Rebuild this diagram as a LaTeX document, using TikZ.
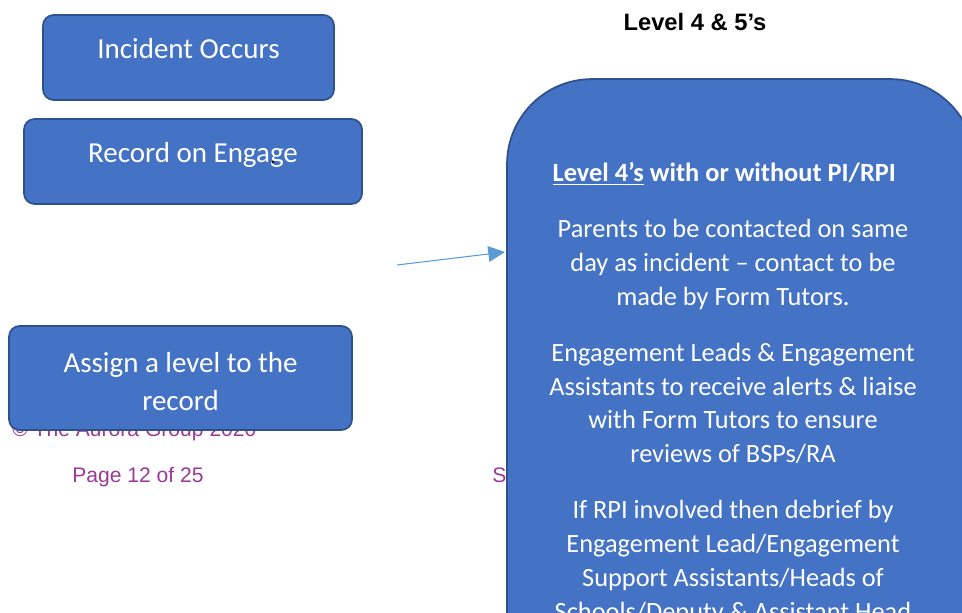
\documentclass[tikz,border=0pt]{standalone}
\usepackage{fontspec}
\setmainfont{Carlito}
\newfontfamily\arialfont{Liberation Sans}
\usetikzlibrary{arrows.meta}
\usetikzlibrary{calc}
\definecolor{boxfill}{HTML}{4472C4}
\definecolor{boxline}{HTML}{2F528F}
\definecolor{arrowcol}{HTML}{5B9BD5}
\definecolor{footcol}{HTML}{9B3A96}
\tikzset{
  flowbox/.style={draw=boxline,fill=boxfill,line width=1pt,
                  rounded corners=#1,inner sep=0pt},
  flowbox/.default=6pt,
  boxtext/.style={text=white,font=\fontsize{16.5}{21.5}\selectfont,
                  align=center,inner sep=0pt},
  bodytext/.style={text=white,font=\fontsize{15}{19.3}\selectfont,
                   align=center,inner sep=0pt},
  foottext/.style={text=footcol,font=\arialfont\fontsize{12}{14}\selectfont,
                   inner sep=0pt},
  link/.style={arrowcol,line width=0.6pt,-{Triangle[length=9.5pt,width=9pt]}}
}

\begin{document}
\begin{tikzpicture}[x=0.02cm,y=-0.02cm]
  \useasboundingbox (0,0) rectangle (962,612);
  \clip (0,0) rectangle (962,612);

  % FOOTER (behind the boxes)
  \node[foottext,anchor=base west] (copyright) at (12,436) {© The Aurora Group 2020};
  \node[foottext,anchor=base west] (pagenum) at (72,482) {Page 12 of 25};
  \node[foottext,anchor=base west] (footright) at (492,482) {S};

  % TITLE
  \node[anchor=base,inner sep=0pt,font=\arialfont\bfseries\fontsize{13.5}{16}\selectfont]
    (title) at (695,30.5) {Level 4 \& 5’s};

  % LEFT BOXES
  \node[flowbox,minimum width=5.82cm,minimum height=1.7cm] (incident) at (188.5,57.5) {};
  \node[boxtext,anchor=base] (incidentText) at (188.5,58) {Incident Occurs};
  \node[flowbox,minimum width=6.76cm,minimum height=1.7cm] (record) at (193,161.5) {};
  \node[boxtext,anchor=base] (recordText) at (193,162) {Record on Engage};
  \fill (273,162) circle[radius=0.9pt]; % stray dot
  \node[flowbox,minimum width=6.86cm,minimum height=2.08cm] (assign) at (180.5,378) {};
  \node[boxtext,anchor=north] (assignText) at (180.5,352) {Assign a level to the\\record};

  % LEVEL BOX
  \node[flowbox=1.7cm,minimum width=9.36cm,minimum height=13.62cm] (levelbox) at (741,419.5) {};
  \node[bodytext,anchor=north] (levelText) at (733,162) {%
    \textbf{\underline{Level 4’s} with or without PI/RPI}\hspace*{10pt}\\[12.5pt]
    Parents to be contacted on same\\
    day as incident – contact to be\\
    made by Form Tutors.\\[12.5pt]
    Engagement Leads \& Engagement\\
    Assistants to receive alerts \& liaise\\
    with Form Tutors to ensure\\
    reviews of BSPs/RA\\[12.5pt]
    If RPI involved then debrief by\\
    Engagement Lead/Engagement\\
    Support Assistants/Heads of\\
    Schools/Deputy \& Assistant Head};

  % ARROW
  \coordinate (arrowStart) at (397,265);
  \coordinate (arrowEnd) at (505,252);
  \draw[link] (arrowStart) -- (arrowEnd);
\end{tikzpicture}
\end{document}
